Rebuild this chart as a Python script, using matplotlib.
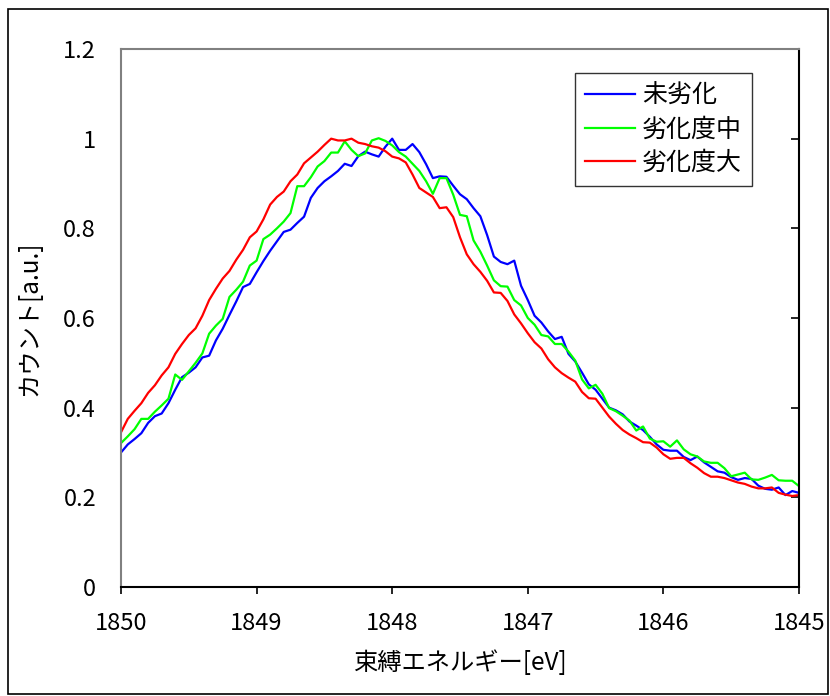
import numpy as np
import matplotlib
matplotlib.use('Agg')
import matplotlib.pyplot as plt
from matplotlib.patches import Rectangle

plt.rcParams['font.family'] = ['Noto Sans CJK JP', 'DejaVu Sans']

# binding energy grid, 1850 -> 1845 eV in 0.05 eV steps
energy = np.round(np.linspace(1850, 1845, 101), 2)

# 未劣化
fresh = [0.300, 0.318, 0.330, 0.343, 0.366, 0.381, 0.387, 0.410, 0.440, 0.468,
         0.478, 0.490, 0.512, 0.516, 0.550, 0.576, 0.607, 0.637, 0.669, 0.676,
         0.702, 0.727, 0.750, 0.771, 0.792, 0.797, 0.812, 0.826, 0.868, 0.890,
         0.905, 0.916, 0.928, 0.944, 0.939, 0.961, 0.971, 0.965, 0.960, 0.982,
         1.000, 0.975, 0.975, 0.988, 0.970, 0.943, 0.912, 0.916, 0.915, 0.895,
         0.876, 0.865, 0.845, 0.827, 0.785, 0.737, 0.725, 0.720, 0.728, 0.672,
         0.640, 0.605, 0.590, 0.570, 0.553, 0.558, 0.520, 0.503, 0.478, 0.452,
         0.440, 0.420, 0.400, 0.394, 0.385, 0.369, 0.360, 0.350, 0.335, 0.318,
         0.306, 0.304, 0.304, 0.290, 0.283, 0.291, 0.278, 0.268, 0.258, 0.255,
         0.245, 0.239, 0.243, 0.241, 0.226, 0.219, 0.217, 0.222, 0.205, 0.214,
         0.210]

# 劣化度中
mid = [0.321, 0.336, 0.352, 0.375, 0.375, 0.391, 0.405, 0.420, 0.474, 0.462,
       0.481, 0.500, 0.521, 0.565, 0.583, 0.598, 0.647, 0.663, 0.681, 0.717,
       0.728, 0.776, 0.786, 0.800, 0.815, 0.834, 0.894, 0.894, 0.914, 0.938,
       0.950, 0.969, 0.969, 0.994, 0.975, 0.961, 0.967, 0.996, 1.001, 0.995,
       0.985, 0.970, 0.960, 0.944, 0.928, 0.905, 0.877, 0.912, 0.912, 0.875,
       0.830, 0.827, 0.773, 0.748, 0.717, 0.684, 0.671, 0.670, 0.640, 0.628,
       0.600, 0.585, 0.562, 0.559, 0.542, 0.542, 0.525, 0.505, 0.463, 0.443,
       0.451, 0.431, 0.399, 0.392, 0.382, 0.371, 0.349, 0.358, 0.331, 0.324,
       0.325, 0.313, 0.327, 0.307, 0.296, 0.291, 0.280, 0.277, 0.277, 0.265,
       0.247, 0.251, 0.255, 0.240, 0.239, 0.244, 0.250, 0.238, 0.237, 0.237,
       0.225]

# 劣化度大
high = [0.345, 0.375, 0.393, 0.410, 0.433, 0.450, 0.472, 0.490, 0.520, 0.542,
        0.562, 0.577, 0.605, 0.640, 0.665, 0.688, 0.705, 0.730, 0.752, 0.780,
        0.793, 0.820, 0.853, 0.870, 0.882, 0.905, 0.920, 0.945, 0.958, 0.971,
        0.986, 1.000, 0.996, 0.996, 1.000, 0.991, 0.988, 0.983, 0.980, 0.972,
        0.960, 0.956, 0.947, 0.920, 0.890, 0.880, 0.870, 0.845, 0.847, 0.825,
        0.780, 0.742, 0.720, 0.703, 0.683, 0.657, 0.656, 0.638, 0.608, 0.588,
        0.566, 0.546, 0.532, 0.508, 0.490, 0.477, 0.467, 0.458, 0.435, 0.421,
        0.420, 0.400, 0.380, 0.364, 0.350, 0.340, 0.332, 0.323, 0.322, 0.311,
        0.296, 0.286, 0.288, 0.288, 0.276, 0.266, 0.254, 0.246, 0.246, 0.243,
        0.238, 0.233, 0.230, 0.224, 0.220, 0.220, 0.222, 0.210, 0.206, 0.203,
        0.205]

labels = ['未劣化', '劣化度中', '劣化度大']
colors = ['#0000FF', '#00FF00', '#FF0000']
xticks = [1850, 1849, 1848, 1847, 1846, 1845]
yticks = [0, 0.2, 0.4, 0.6, 0.8, 1.0, 1.2]
ytick_labels = ['0', '0.2', '0.4', '0.6', '0.8', '1', '1.2']

fig = plt.figure(figsize=(8.30, 6.96), dpi=100)
ax = fig.add_axes([121/830, 1 - 587/696, 678/830, 538/696])

for y, lab, c in zip([fresh, mid, high], labels, colors):
    ax.plot(energy, y, color=c, lw=1.6, label=lab)

ax.set_xlim(1850, 1845)
ax.set_ylim(0, 1.2)
ax.set_xticks(xticks)
ax.set_xticklabels([str(t) for t in xticks])
ax.set_yticks(yticks)
ax.set_yticklabels(ytick_labels)

# spines: plot-area border grey, axes black
for s in ['left', 'top']:
    ax.spines[s].set_color('#808080')
    ax.spines[s].set_linewidth(1.5)
for s in ['bottom', 'right']:
    ax.spines[s].set_color('black')
    ax.spines[s].set_linewidth(1.5)

ax.tick_params(axis='y', left=False, right=True, labelleft=True, labelright=False,
               direction='in', length=6, width=1.2, labelsize=17, pad=18)
ax.tick_params(axis='x', direction='out', length=5, width=1.2, labelsize=17, pad=13)

ax.set_xlabel('束縛エネルギー[eV]', fontsize=17.5, labelpad=11)
ax.set_ylabel('カウント[a.u.]', fontsize=17.5, labelpad=15)

leg = ax.legend(loc='upper left', bbox_to_anchor=(0.669, 0.955), fontsize=18,
                frameon=True, fancybox=False, handlelength=2.0, handletextpad=0.3,
                borderpad=0.4, labelspacing=0.3, borderaxespad=0)
leg.get_frame().set_edgecolor('black')
leg.get_frame().set_linewidth(1.0)
for h in leg.get_lines():
    h.set_linewidth(1.6)

# outer chart border
fig.patches.append(Rectangle((8/830, 2/696), 820/830, 685/696, transform=fig.transFigure,
                             fill=False, edgecolor='black', lw=1.2))

fig.savefig('out.png', dpi=100)
